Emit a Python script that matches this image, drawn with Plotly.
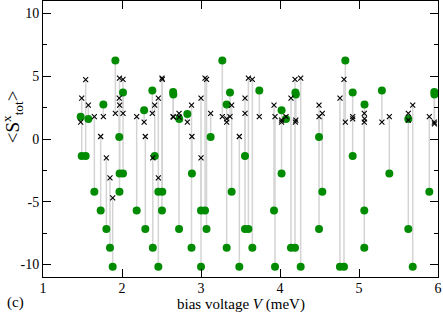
import plotly.graph_objects as go

# bias voltage (meV) of each pair
V = [1.477, 1.490, 1.540, 1.574, 1.650, 1.730, 1.764, 1.802, 1.848, 1.882,
     1.916, 1.968, 1.965, 1.970, 2.013, 2.013, 2.186, 2.280, 2.295, 2.384,
     2.390, 2.414, 2.460, 2.460, 2.506, 2.510, 2.647, 2.650, 2.722, 2.725,
     2.827, 2.880, 2.885, 3.000, 3.000, 3.051, 3.070, 3.122, 3.270, 3.325,
     3.325, 3.367, 3.388, 3.485, 3.557, 3.557, 3.600, 3.650, 3.738, 3.924,
     3.937, 4.020, 4.020, 4.076, 4.139, 4.190, 4.195, 4.200, 4.262, 4.494,
     4.494, 4.536, 4.759, 4.810, 4.827, 4.920, 4.920, 5.067, 5.067, 5.070,
     5.290, 5.384, 5.624, 5.624, 5.680, 5.890, 5.953, 5.955]

# black crosses
cross_vals = [1.35, 3.25, 4.74, 2.70, 1.78, 0.20, 1.78, -1.50, -3.10, -4.70,
              2.05, 4.85, 3.25, 2.70, 4.75, 2.05, 1.78, 1.35, 0.20, 2.05,
              -1.50, 2.70, 3.25, -3.10, 4.85, 4.75, 1.78, 1.75, 2.05, 1.75,
              1.35, 2.70, 0.20, 3.25, -1.50, 4.85, 4.75, 2.05, 1.78, 1.35,
              1.60, 1.78, 2.70, 0.20, 3.25, 2.05, 4.85, 4.75, 1.78, 2.70,
              1.78, 1.35, 1.50, 1.78, 3.25, 4.75, 1.35, 1.50, 4.85, 2.70,
              1.78, 2.05, 3.25, 4.75, 1.35, 1.78, 1.60, 2.05, 1.35, 1.60,
              1.35, 1.78, 2.05, 1.50, 2.70, 1.78, 1.35, 1.20]

# green dots
green_vals = [1.78, -1.35, -1.35, 1.59, -4.20, -5.70, 2.75, -7.17, -8.67, -10.18,
              6.25, -4.20, 0.16, -2.75, -2.75, 3.70, -5.70, 2.30, -7.17, 3.87,
              -8.67, -1.35, -4.20, -10.18, -5.70, -4.20, 3.75, 3.55, -7.17, 1.60,
              2.00, -8.67, -2.75, -5.70, -10.18, -5.70, -7.17, 0.16, 6.25, -8.67,
              2.75, 3.70, -4.20, -10.18, -1.35, -7.17, -7.17, -8.67, 3.87, -5.70,
              -10.18, -2.75, 2.30, 1.60, -8.67, -8.67, 3.70, 3.55, -10.18, -7.17,
              0.16, -4.20, -10.18, -10.18, 6.25, 3.70, -1.35, -5.70, -8.67, 2.75,
              3.87, -2.75, -7.17, 1.60, -10.18, -4.20, 3.75, 3.55]

x_ticks = [1, 2, 3, 4, 5, 6]
y_ticks = [-10, -5, 0, 5, 10]
y_ticktext = ["-10", "-5", "0", "5", "10"]

line_x, line_y = [], []
for v, a, b in zip(V, cross_vals, green_vals):
    line_x += [v, v, None]
    line_y += [a, b, None]

fig = go.Figure()
fig.add_trace(go.Scatter(x=line_x, y=line_y, mode="lines",
                         line=dict(color="#d4d4d4", width=1.5),
                         hoverinfo="skip", showlegend=False))
fig.add_trace(go.Scatter(x=V, y=green_vals, mode="markers",
                         marker=dict(color="#008b00", size=8, line=dict(width=0)),
                         showlegend=False))
fig.add_trace(go.Scatter(x=V, y=cross_vals, mode="markers",
                         marker=dict(symbol="x-thin", size=5,
                                     line=dict(color="black", width=1.1)),
                         showlegend=False))

font = dict(family="Liberation Serif", size=14, color="black")

fig.update_layout(
    width=443, height=312,
    margin=dict(l=43, r=5, t=1, b=35),
    paper_bgcolor="white", plot_bgcolor="white",
    font=font,
    xaxis=dict(range=[1, 6], tickvals=x_ticks, ticks="inside", ticklen=8,
               tickcolor="black", showline=True, linecolor="black", linewidth=1,
               mirror="ticks", showgrid=False, zeroline=False,
               tickfont=font, ticklabelstandoff=-2),
    yaxis=dict(range=[-11, 11], tickvals=y_ticks, ticktext=y_ticktext,
               ticks="inside", ticklen=8, tickcolor="black",
               showline=True, linecolor="black", linewidth=1, mirror="ticks",
               showgrid=False, zeroline=False, tickfont=font,
               minor=dict(tickvals=[-7.5, -2.5, 2.5, 7.5], ticks="inside",
                          ticklen=4, tickcolor="black", showgrid=False)),
    annotations=[
        dict(text="bias voltage <i>V</i> (meV)", xref="paper", yref="paper",
             x=0.5, y=-0.063, yanchor="top", showarrow=False,
             font=dict(family="Liberation Serif", size=15, color="black")),
        dict(text="&lt;S<sup>x</sup><sub>tot</sub>&gt;", xref="paper", yref="paper",
             x=-0.075, y=0.58, textangle=-90, showarrow=False,
             xanchor="center", yanchor="middle",
             font=dict(family="Liberation Serif", size=19, color="black")),
        dict(text="(c)", xref="paper", yref="paper", x=-0.097, y=-0.055,
             xanchor="left", yanchor="top", showarrow=False,
             font=dict(family="Liberation Serif", size=15, color="black")),
    ],
)

fig.write_html("out.html", config={"displayModeBar": False},
               post_script="document.body.style.margin='0';document.body.style.overflow='hidden';")
